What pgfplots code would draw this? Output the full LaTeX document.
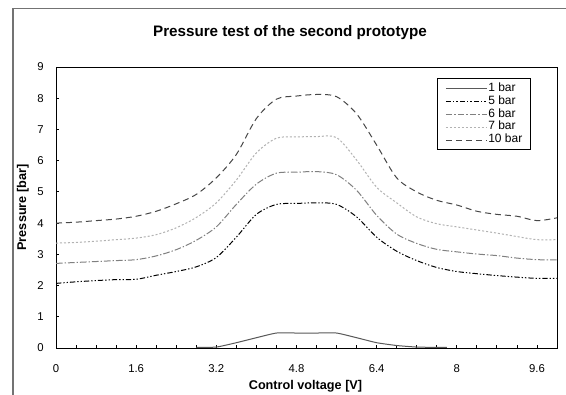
\documentclass[border=0pt]{standalone}
\usepackage{pgfplots}
\pgfplotsset{compat=1.18}
\usepackage{fontspec}
\setmainfont{Liberation Sans}
\begin{document}
\begin{tikzpicture}
\path[use as bounding box] (0pt,0pt) rectangle (424.5pt,295.5pt);
\fill[white] (0pt,0pt) rectangle (424.5pt,295.5pt);
\draw[black!55, line width=1.1pt] (9.75pt,-5pt) -- (9.75pt,289.1pt) -- (430pt,289.1pt);
\begin{axis}[
  at={(42pt,34.5pt)}, anchor=south west,
  scale only axis, width=375.75pt, height=210.75pt,
  xmin=0, xmax=10, ymin=0, ymax=9,
  axis line style={black, line width=0.75pt},
  tick align=inside, tick pos=left,
  major tick length=2pt, minor tick length=2pt,
  every tick/.style={black, line width=0.6pt},
  xtick={0,1.6,3.2,4.8,6.4,8,9.6},
  xticklabels={0,1.6,3.2,4.8,6.4,8,9.6},
  minor xtick={0.4,0.8,1.2,2.0,2.4,2.8,3.6,4.0,4.4,5.2,5.6,6.0,6.8,7.2,7.6,8.4,8.8,9.2},
  ytick={0,1,2,3,4,5,6,7,8,9},
  /pgf/number format/assume math mode=true,
  tick label style={font=\fontsize{8.5}{10}\selectfont, inner sep=0pt},
  xticklabel style={yshift=-12pt},
  yticklabel style={xshift=-9pt},
  title={Pressure test of the second prototype},
  title style={at={(axis description cs:0.467,1)}, anchor=center, yshift=20pt, font=\bfseries\fontsize{11.4}{13}\selectfont},
  xlabel={Control voltage [V]},
  xlabel style={at={(axis description cs:0.498,0)}, anchor=center, yshift=-28.5pt, font=\bfseries\fontsize{9.5}{11}\selectfont},
  ylabel={Pressure [bar]},
  ylabel shift=3pt,
  ylabel style={font=\bfseries\fontsize{9.5}{11}\selectfont},
  legend cell align=left,
  legend image code/.code={\draw[#1] (0pt,0pt) -- (31pt,0pt);},
  legend style={at={(0.760,0.961)}, anchor=north west, draw=black, line width=0.75pt,
    font=\fontsize{9}{10}\selectfont, row sep=0pt, inner xsep=6pt, inner ysep=2.5pt,
    nodes={inner sep=0.5pt, text height=6.5pt, text depth=2.2pt}},
]
\addplot[black!65, line width=0.75pt, smooth, tension=0.3] coordinates {
(2.8,0.02) (3.2,0.03) (3.6,0.17) (4.0,0.33) (4.4,0.48) (4.8,0.48) (5.2,0.48) (5.6,0.48)
(6.0,0.33) (6.4,0.17) (6.8,0.08) (7.2,0.03) (7.6,0.02) (7.8,0.02)};
\addlegendentry{1 bar}
\addplot[black, line width=0.75pt, smooth, dash pattern=on 4pt off 1.5pt on 1pt off 1.5pt on 1pt off 1.5pt] coordinates {
(0,2.07) (0.4,2.12) (0.8,2.16) (1.2,2.19) (1.6,2.2) (2.0,2.33) (2.4,2.45) (2.8,2.6)
(3.2,2.9) (3.6,3.55) (4.0,4.28) (4.4,4.6) (4.8,4.63) (5.2,4.65) (5.6,4.6) (6.0,4.2)
(6.4,3.55) (6.8,3.1) (7.2,2.8) (7.6,2.58) (8.0,2.45) (8.4,2.38) (8.8,2.32) (9.2,2.27)
(9.6,2.23) (10,2.23)};
\addlegendentry{5 bar}
\addplot[black!50, line width=0.75pt, smooth, dash pattern=on 5pt off 1.5pt on 1pt off 1.5pt] coordinates {
(0,2.71) (0.4,2.74) (0.8,2.77) (1.2,2.8) (1.6,2.83) (2.0,2.95) (2.4,3.15) (2.8,3.45)
(3.2,3.88) (3.6,4.6) (4.0,5.25) (4.4,5.6) (4.8,5.63) (5.2,5.65) (5.6,5.55) (6.0,5.05)
(6.4,4.25) (6.8,3.65) (7.2,3.35) (7.6,3.16) (8.0,3.08) (8.4,3.01) (8.8,2.96) (9.2,2.88)
(9.6,2.83) (10,2.82)};
\addlegendentry{6 bar}
\addplot[black!30, line width=0.75pt, smooth, dash pattern=on 1.5pt off 1.5pt] coordinates {
(0,3.36) (0.4,3.38) (0.8,3.42) (1.2,3.47) (1.6,3.52) (2.0,3.63) (2.4,3.85) (2.8,4.18)
(3.2,4.65) (3.6,5.38) (4.0,6.25) (4.4,6.72) (4.8,6.76) (5.2,6.77) (5.6,6.74) (6.0,6.02)
(6.4,5.15) (6.8,4.65) (7.2,4.2) (7.6,3.98) (8.0,3.88) (8.4,3.78) (8.8,3.68) (9.2,3.57)
(9.6,3.47) (10,3.47)};
\addlegendentry{7 bar}
\addplot[black!72, line width=0.75pt, smooth, dash pattern=on 4.5pt off 3pt] coordinates {
(0,4.0) (0.4,4.03) (0.8,4.08) (1.2,4.13) (1.6,4.22) (2.0,4.38) (2.4,4.62) (2.8,4.92)
(3.2,5.45) (3.6,6.2) (4.0,7.35) (4.4,7.97) (4.8,8.07) (5.2,8.12) (5.6,8.05) (6.0,7.5)
(6.4,6.5) (6.8,5.45) (7.2,5.0) (7.6,4.73) (8.0,4.58) (8.4,4.38) (8.8,4.28) (9.2,4.22)
(9.6,4.08) (10,4.17)};
\addlegendentry{10 bar}
\end{axis}
\end{tikzpicture}
\end{document}
